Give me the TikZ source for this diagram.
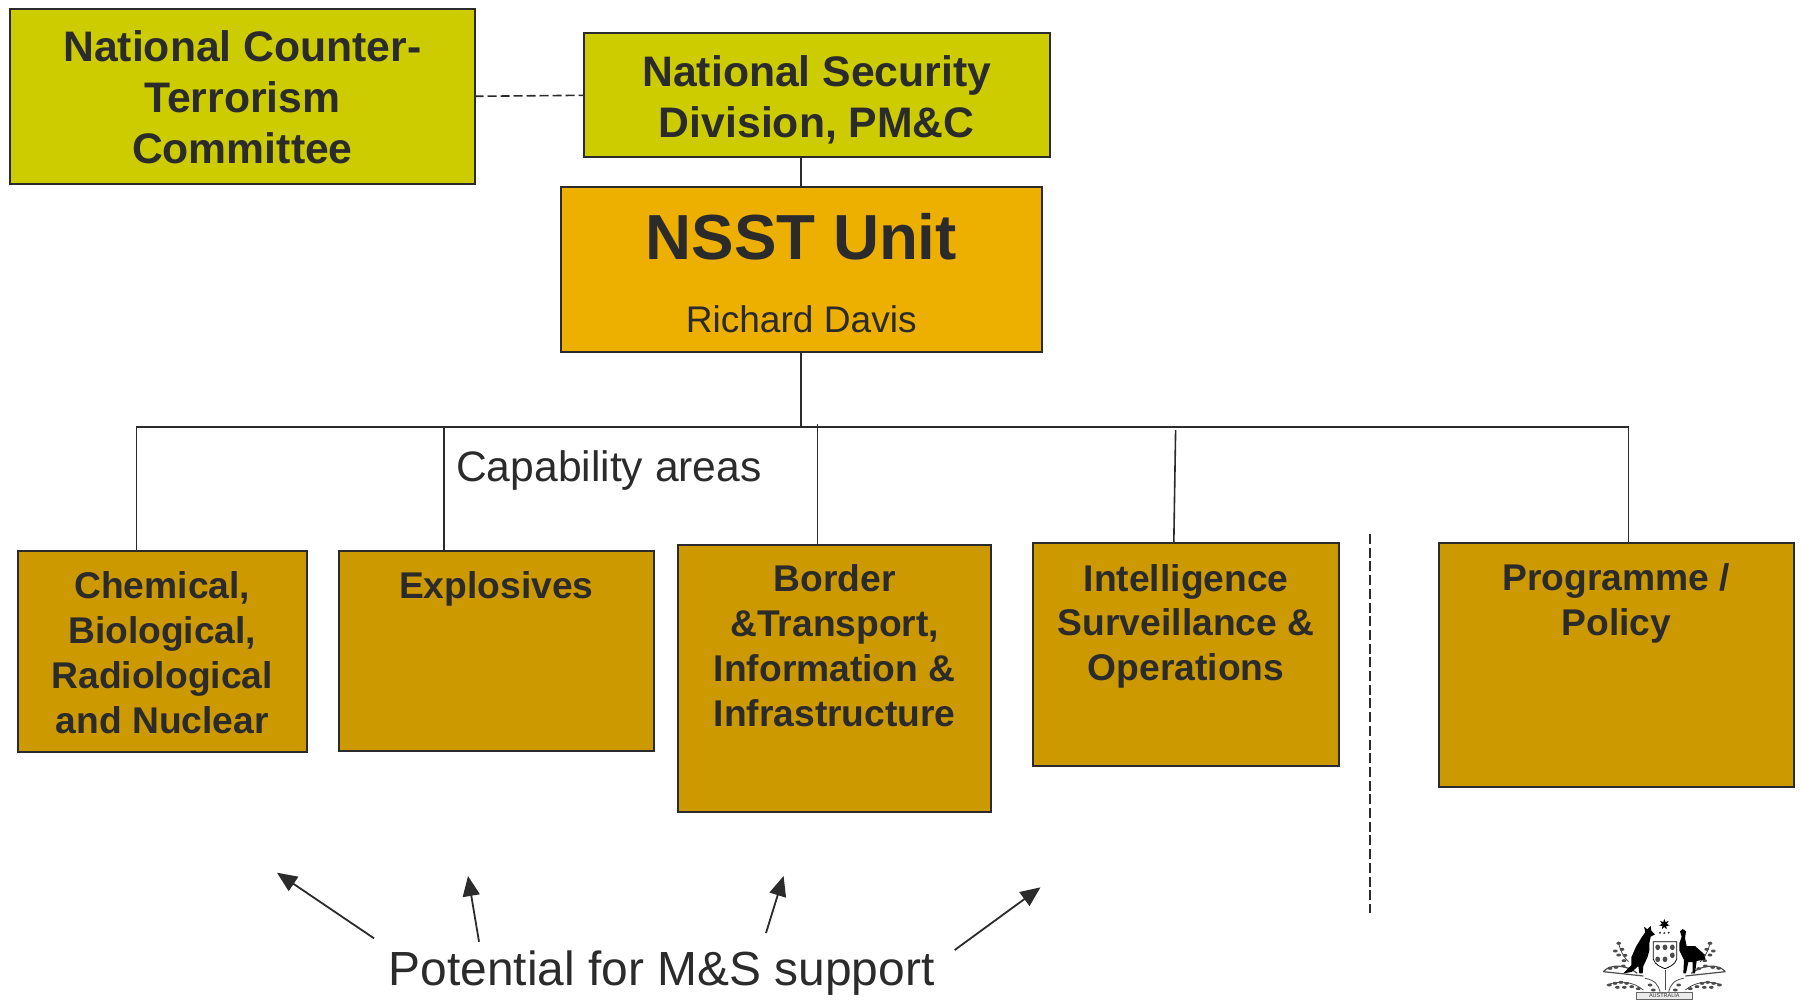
\documentclass[tikz,border=0pt]{standalone}
\usepackage{fontspec}
\setmainfont{Liberation Sans}
\usetikzlibrary{arrows.meta,shapes.geometric}
\definecolor{txt}{HTML}{2B2B2B}
\definecolor{lime}{HTML}{CCCC00}
\definecolor{amber}{HTML}{EDB000}
\definecolor{ochre}{HTML}{CC9900}
% width, height, pad, font size, baseline, text
\newcommand{\boxtext}[6]{\parbox[c][#2pt][t]{#1pt}{\centering\fontsize{#4}{#5}\selectfont\bfseries\vspace*{#3pt}#6\par}}
\tikzset{
  orgbox/.style={draw=txt,line width=2pt,inner sep=0pt,outer sep=0pt,anchor=north west,text=txt},
  limebox/.style={orgbox,fill=lime},
  amberbox/.style={orgbox,fill=amber},
  ochrebox/.style={orgbox,fill=ochre},
  link/.style={draw=txt,line width=1.6pt},
  dashlink/.style={link,dash pattern=on 9pt off 4pt},
  divider/.style={link,dash pattern=on 10pt off 3.7pt},
  pointer/.style={draw=txt,line width=1.8pt,-{Triangle[length=20pt,width=17pt]}},
  plain/.style={text=txt,inner sep=0pt,anchor=base west},
  leaf/.style={fill=black!70},
}
\newcommand{\crestside}{%
  \draw[black!70,line width=1.2pt] (130,245) .. controls (150,222) and (195,222) .. (232,250);
  \draw[black!70,line width=1.2pt] (130,245) -- (250,258);
  \draw[black!70,line width=.8pt] (175,155) .. controls (180,180) and (190,200) .. (205,215);
  \draw[black!70,line width=.8pt] (140,285) .. controls (180,270) and (220,275) .. (250,300);
  \draw[black!70,line width=.8pt] (255,265) .. controls (285,270) and (295,285) .. (300,305);
  \foreach \p in {(176,160),(166,183),(186,178),(176,195),(195,196),(192,212),(168,232),(150,235),(190,228),(210,236),(148,285),(165,280),(183,277),(200,280),(172,292),(193,292),(215,290),(235,296),(270,285),(250,310),(280,300)}
    \fill[leaf] \p ellipse (2.4pt and 1.5pt);
}
\begin{document}
\begin{tikzpicture}[x=1pt,y=-1pt]
\path[use as bounding box,fill=white] (0,0) rectangle (1801,999);

\node[limebox] (nctc) at (10.3,8.8) {\boxtext{464.2}{175}{16.6}{42.7}{51}{\strut National Counter-\\Terrorism\\Committee}};
\node[limebox] (nsd) at (583.5,33.3) {\boxtext{466.5}{124}{17.5}{42.7}{51}{\strut National Security\\Division, PM\&C}};
\node[amberbox] (nsst) at (561,186.5) {\parbox[c][165pt][t]{480.5pt}{\centering\fontsize{63.7}{73}\selectfont\bfseries\vspace*{22pt}\strut NSST Unit\par\fontsize{37.1}{73}\selectfont\mdseries\strut Richard Davis\par}};

\node[ochrebox] (cbrn) at (17.8,551.3) {\boxtext{288.8}{200.4}{15.6}{37.2}{45}{\strut Chemical,\\Biological,\\Radiological\\and Nuclear}};
\node[ochrebox] (expl) at (338.8,550.6) {\boxtext{315}{200}{16.3}{37.2}{45}{\strut Explosives}};
\node[ochrebox] (bord) at (678.4,544.6) {\boxtext{312.6}{267}{15.5}{37.2}{45}{\strut Border\\\&Transport,\\Information \&\\Infrastructure}};
\node[ochrebox] (intl) at (1033.3,543.4) {\boxtext{305.7}{222.3}{16.3}{37.2}{44.7}{\strut Intelligence\\Surveillance \&\\Operations}};
\node[ochrebox] (prog) at (1438.5,542.6) {\boxtext{355.5}{244.8}{16.6}{37.2}{44.7}{\strut Programme /\\Policy}};

\node[plain] (cap) at (456,481.5) {\fontsize{42.6}{50}\selectfont Capability areas};
\node[plain] (pot) at (388.5,985.5) {\fontsize{47.9}{56}\selectfont Potential for M\&S support};

% connectors
\draw[dashlink] (nctc.east) -- (nsd.west);
\draw[link] (nsst.north) -- (nsst.north |- nsd.south);
\coordinate (busL) at (136.6,426.8);
\coordinate (busR) at (1628.6,426.8);
\coordinate (explTop) at (444,428);
\coordinate (bordTop) at (817.3,424);
\coordinate (intlTop) at (1175.6,430);
\coordinate (intlFoot) at (1173.8,543);
\draw[link] (nsst.south) -- (nsst.south |- busL);
\draw[link] (busL |- cbrn.north) -- (busL) -- (busR) -- (busR |- prog.north);
\draw[link] (explTop) -- (explTop |- expl.north);
\draw[link] (bordTop) -- (bordTop |- bord.north);
\draw[link] (intlTop) -- (intlFoot);

\coordinate (divTop) at (1370,534);
\coordinate (divEnd) at (1370,913);
\draw[divider] (divTop) -- (divEnd);

% arrows
\coordinate (a1s) at (374,938.3); \coordinate (a1e) at (277,872.7);
\coordinate (a2s) at (479,941.7); \coordinate (a2e) at (468,876);
\coordinate (a3s) at (766,933);   \coordinate (a3e) at (783.6,876);
\coordinate (a4s) at (954.7,950); \coordinate (a4e) at (1040.5,887.3);
\draw[pointer] (a1s) -- (a1e);
\draw[pointer] (a2s) -- (a2e);
\draw[pointer] (a3s) -- (a3e);
\draw[pointer] (a4s) -- (a4e);

% coat of arms
\begin{scope}[shift={(1560,890)},x=0.3333pt,y=-0.3333pt]
  \crestside
  \begin{scope}[shift={(626,0)},xscale=-1]
    \crestside
  \end{scope}
  \node[star,star points=7,star point ratio=2.2,fill=black,inner sep=0pt,minimum size=11pt] (crestStar) at (313,103) {};
  \foreach \p in {(300,128),(313,129),(326,128)} \fill[black!80] \p circle (1.1pt);
  % kangaroo
  \fill[black] (252,110) -- (262,118) -- (272,108) -- (274,122) -- (285,133) -- (272,140) -- (268,160) -- (268,182) -- (262,203) -- (250,228) -- (248,250) -- (238,250) -- (235,228) -- (215,246) -- (190,250) -- (214,226) -- (214,202) -- (228,170) -- (245,142) -- (256,126) -- cycle;
  % emu
  \fill[black] (360,124) -- (368,117) -- (378,124) -- (375,145) -- (380,168) -- (405,168) -- (430,190) -- (437,208) -- (410,213) -- (405,250) -- (398,250) -- (398,216) -- (385,216) -- (378,250) -- (370,250) -- (372,210) -- (358,182) -- (358,160) -- (365,140) -- cycle;
  % shield
  \draw[black,fill=white,line width=.8pt] (280,155) -- (350,155) -- (350,208) .. controls (345,225) and (325,232) .. (315,236) .. controls (305,232) and (285,225) .. (280,208) -- cycle;
  \foreach \p in {(293,172),(315,172),(337,172),(293,208),(315,208),(337,196)} \fill[black!70] \p ellipse (2.4pt and 2.8pt);
  \draw[black!70,line width=.8pt] (315,240) -- (315,300);
  \draw[black!60,fill=black!8,line width=.6pt] (228,308) -- (398,308) -- (398,327) -- (228,327) -- cycle;
  \node[inner sep=0pt,text=black!80] (crestScroll) at (313,316) {\fontsize{5.5}{6}\selectfont AUSTRALIA};
\end{scope}
\end{tikzpicture}
\end{document}
